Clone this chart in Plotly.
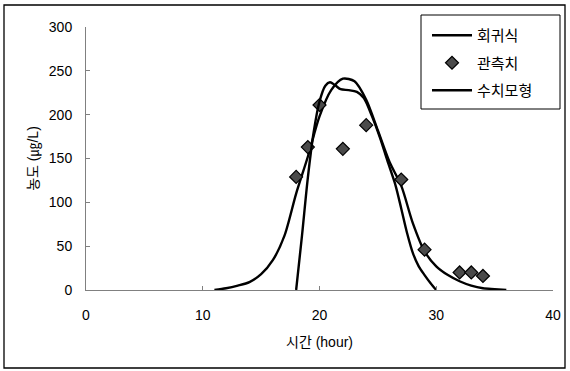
import plotly.graph_objects as go

# Regression curve (회귀식)
time_reg = [11, 12, 13, 14, 15, 16, 17, 18, 19, 20, 21, 22, 23, 24, 25, 26, 27, 28, 29, 30, 31, 32, 33, 34, 35, 36]
conc_reg = [0, 2, 5, 9, 18, 34, 62, 110, 152, 198, 228, 241, 238, 217, 182, 146, 119, 76, 44, 27, 17, 10, 5, 2, 1, 0]

# Observations (관측치)
time_obs = [18, 19, 20, 22, 24, 27, 29, 32, 33, 34]
conc_obs = [129, 163, 211, 161, 188, 126, 46, 20, 20, 16]

# Numerical model (수치모형)
time_num = [18, 18.5, 19, 19.5, 20, 20.5, 20.9, 21.3, 21.8, 22.5, 23.2, 23.8, 24.5, 25.2, 25.8, 26.5, 27, 27.5, 28, 28.5, 29, 29.5, 30]
conc_num = [0, 62, 128, 180, 215, 233, 237, 234, 229, 228, 226, 219, 198, 173, 148, 120, 93, 65, 42, 27, 17, 8, 0]

x_ticks = [0, 10, 20, 30, 40]
y_ticks = [0, 50, 100, 150, 200, 250, 300]

FONT = "Liberation Sans, Arial, Noto Sans CJK KR"

W, H = 570, 371
L, R, T, B = 86, 17, 27, 81
pw, ph = W - L - R, H - T - B


def px_to_paper_x(px):
    return (px - L) / pw


def py_to_paper_y(py):
    return (H - B - py) / ph


fig = go.Figure()
fig.add_trace(go.Scatter(x=time_reg, y=conc_reg, mode="lines", name="회귀식",
                         legendgroup="a",
                         line=dict(color="black", width=2.4, shape="spline", smoothing=0.8)))
fig.add_trace(go.Scatter(x=time_obs, y=conc_obs, mode="markers", name="관측치",
                         legendgroup="b",
                         marker=dict(symbol="diamond", size=10, color="#4a4a4a",
                                     line=dict(color="black", width=1.2))))
fig.add_trace(go.Scatter(x=time_num, y=conc_num, mode="lines", name="수치모형",
                         legendgroup="c",
                         line=dict(color="black", width=2.4, shape="spline", smoothing=0.8)))

fig.update_layout(
    width=W, height=H,
    margin=dict(l=L, r=R, t=T, b=B, autoexpand=False),
    paper_bgcolor="white", plot_bgcolor="white",
    font=dict(family=FONT, size=14, color="black"),
    showlegend=True,
    legend=dict(x=px_to_paper_x(427), y=py_to_paper_y(19), xanchor="left", yanchor="top",
                bgcolor="rgba(0,0,0,0)", borderwidth=0,
                font=dict(family="Noto Sans CJK KR", size=15),
                tracegroupgap=5, itemwidth=40),
    xaxis=dict(range=[0, 40], tickvals=x_ticks, ticktext=[str(v) for v in x_ticks],
               showgrid=False, zeroline=False, showline=True, linecolor="#808080",
               linewidth=1, ticks="inside", ticklen=4, tickcolor="#808080",
               tickfont=dict(size=14), automargin=False, ticklabelstandoff=12,
               title=dict(text="시간 (hour)", font=dict(size=14), standoff=15)),
    yaxis=dict(range=[0, 300], tickvals=y_ticks, ticktext=[str(v) for v in y_ticks],
               showgrid=False, zeroline=False, showline=True, linecolor="#808080",
               linewidth=1, ticks="inside", ticklen=4, tickcolor="#808080",
               tickfont=dict(size=14), automargin=False, ticklabelstandoff=10,
               title=dict(text="농도 (㎍/L)", font=dict(size=14), standoff=6)),
    shapes=[
        dict(type="rect", xref="paper", yref="paper",
             x0=px_to_paper_x(4), x1=px_to_paper_x(565),
             y0=py_to_paper_y(368), y1=py_to_paper_y(5),
             line=dict(color="black", width=1.3), fillcolor="rgba(0,0,0,0)"),
        dict(type="rect", xref="paper", yref="paper",
             x0=px_to_paper_x(421), x1=px_to_paper_x(560),
             y0=py_to_paper_y(109), y1=py_to_paper_y(15),
             line=dict(color="black", width=1), fillcolor="rgba(0,0,0,0)"),
    ],
)

fig.write_html("out.html", config={"displayModeBar": False},
               post_script="document.body.style.margin='0';document.body.style.overflow='hidden';")
